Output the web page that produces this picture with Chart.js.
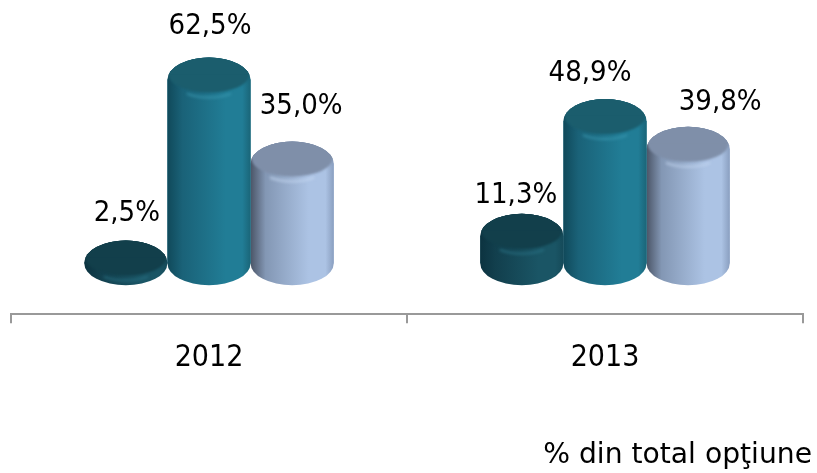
<!DOCTYPE html>
<html>
<head>
<meta charset="utf-8">
<style>
    html, body { margin: 0; padding: 0; background: #fff; }
    canvas { display: block; }
</style>
<script src="https://cdn.jsdelivr.net/npm/chart.js@4/dist/chart.umd.min.js"></script>
</head>
<body>
<canvas id="chart" width="817" height="473"></canvas>
<script>
const categories = ['2012', '2013'];
const seriesA = [2.5, 11.3];
const seriesB = [62.5, 48.9];
const seriesC = [35.0, 39.8];
const axisCaption = '% din total opţiune';

const condensedFont = '"DejaVu Sans Condensed", "DejaVu Sans", sans-serif';
const captionFont = '"DejaVu Sans", sans-serif';

// Label nudges, the original labels were moved by hand
const labelShift = [
    [[1, -1], [-6, 8]],
    [[1, -5], [-15, 1]],
    [[9, -9], [32, 2]]
];

// side gradient stops, lid colour, highlight
const palette = [
    { side: ['#0c3340', '#123f4d', '#1a5565', '#154a59'], lid: '#123f4b', rim: '#2a7184', base: '#16505f' },
    { side: ['#10495a', '#1a6278', '#217d96', '#1a6578'], lid: '#1b5d6d', rim: '#3c9bb3', base: '#1f748c' },
    { side: ['#4b5567', '#8397b4', '#acc3e4', '#8a9fc0'], lid: '#7f8fa9', rim: '#c6d8f2', base: '#a4bbdc' }
];

const capHeight = 22;

function bodyPath(ctx, bar) {
    const rx = bar.width / 2;
    ctx.beginPath();
    ctx.ellipse(bar.x, bar.y, rx, capHeight, 0, Math.PI, 0);
    ctx.lineTo(bar.x + rx, bar.base);
    ctx.ellipse(bar.x, bar.base, rx, capHeight, 0, 0, Math.PI);
    ctx.closePath();
}

function drawCylinder(ctx, bar, colors) {
    const rx = bar.width / 2;
    const left = bar.x - rx;
    const right = bar.x + rx;
    const top = bar.y;

    const side = ctx.createLinearGradient(left, 0, right, 0);
    side.addColorStop(0, colors.side[0]);
    side.addColorStop(0.18, colors.side[1]);
    side.addColorStop(0.7, colors.side[2]);
    side.addColorStop(0.9, colors.side[2]);
    side.addColorStop(1, colors.side[3]);

    bodyPath(ctx, bar);
    ctx.fillStyle = side;
    ctx.fill();

    // everything on the lid stays inside the outline
    ctx.save();
    bodyPath(ctx, bar);
    ctx.clip();

    // thin light crescent under the lid
    ctx.filter = 'blur(1.5px)';
    ctx.globalAlpha = 0.75;
    ctx.beginPath();
    ctx.ellipse(bar.x, top - 3, rx - 4, capHeight - 1, 0, Math.PI * 0.3, Math.PI * 0.7);
    ctx.strokeStyle = colors.rim;
    ctx.lineWidth = 2;
    ctx.stroke();
    ctx.globalAlpha = 1;

    ctx.filter = 'blur(1px)';
    ctx.beginPath();
    ctx.ellipse(bar.x, top - 5, rx - 1, capHeight - 4, 0, 0, Math.PI * 2);
    ctx.fillStyle = colors.lid;
    ctx.fill();

    ctx.filter = 'none';
    ctx.beginPath();
    ctx.ellipse(bar.x, top - 5, rx, capHeight - 3, 0, Math.PI, 0);
    ctx.ellipse(bar.x, top - 5, rx - 6, capHeight - 8, 0, 0, Math.PI, true);
    ctx.closePath();
    ctx.fill();
    ctx.restore();

    // top of the silhouette in the lid colour
    ctx.beginPath();
    ctx.ellipse(bar.x, top, rx - 1, capHeight, 0, Math.PI * 1.08, Math.PI * 1.92);
    ctx.closePath();
    ctx.fillStyle = colors.lid;
    ctx.fill();
}

const cylinderPlugin = {
    id: 'cylinders',
    afterDatasetDraw(chart, args) {
        const ctx = chart.ctx;
        const meta = chart.getDatasetMeta(args.index);
        ctx.save();
        meta.data.forEach(bar => drawCylinder(ctx, bar, palette[args.index]));
        ctx.restore();
    },
    afterDatasetsDraw(chart) {
        const ctx = chart.ctx;
        ctx.save();
        ctx.font = '29px ' + condensedFont;
        ctx.fillStyle = '#000';
        ctx.textAlign = 'center';
        ctx.textBaseline = 'bottom';
        chart.data.datasets.forEach((ds, i) => {
            chart.getDatasetMeta(i).data.forEach((bar, j) => {
                const text = ds.data[j].toFixed(1).replace('.', ',') + '%';
                const shift = labelShift[i][j];
                ctx.fillText(text, bar.x + shift[0], bar.y - capHeight - 12 + shift[1]);
            });
        });
        ctx.restore();
    }
};

new Chart(document.getElementById('chart'), {
    type: 'bar',
    data: {
        labels: categories,
        datasets: [
            { data: seriesA, backgroundColor: palette[0].base, base: 2.3 },
            { data: seriesB, backgroundColor: palette[1].base, base: 2.3 },
            { data: seriesC, backgroundColor: palette[2].base, base: 2.3 }
        ]
    },
    plugins: [cylinderPlugin],
    options: {
        responsive: false,
        animation: false,
        barPercentage: 1,
        categoryPercentage: 0.63,
        layout: { padding: { left: 11, right: 5, top: 0, bottom: 0 } },
        plugins: {
            legend: { display: false },
            tooltip: { enabled: false },
            title: {
                display: true,
                text: axisCaption,
                position: 'bottom',
                align: 'end',
                color: '#000',
                font: { family: captionFont, size: 28.2, weight: 'normal' },
                padding: { top: 0, bottom: 0 }
            }
        },
        scales: {
            x: {
                grid: { drawOnChartArea: false, drawTicks: true, tickLength: 9, color: '#999', lineWidth: 2 },
                border: { color: '#999', width: 2 },
                ticks: {
                    color: '#000',
                    font: { family: condensedFont, size: 30 },
                    padding: 17,
                    maxRotation: 0
                },
                afterFit(scale) { scale.height = 125; }
            },
            y: {
                position: 'right',
                min: -14.4,
                max: 88.6,
                grid: { display: false },
                border: { display: false },
                ticks: { display: false },
                afterFit(scale) { scale.width = 9; }
            }
        }
    }
});
</script>
</body>
</html>
